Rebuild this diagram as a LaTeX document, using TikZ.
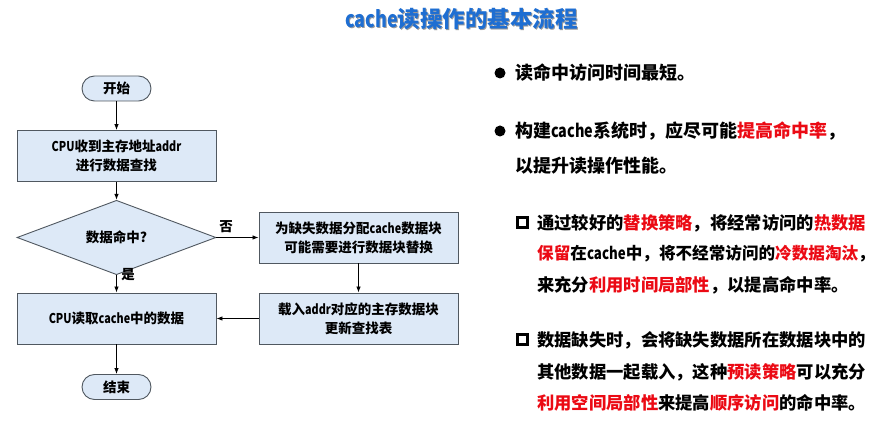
\documentclass[tikz,border=0pt]{standalone}
\usepackage{fontspec}
\setmainfont{Noto Sans CJK SC}
\usetikzlibrary{shapes.geometric,arrows.meta}
\definecolor{boxfill}{RGB}{221,233,247}
\definecolor{boxline}{RGB}{80,88,96}
\definecolor{titleblue}{RGB}{30,110,210}
\definecolor{hl}{RGB}{235,10,20}
\newcommand{\hlt}[1]{\textcolor{hl}{#1}}
\newcommand{\lat}[1]{\scalebox{0.8}[1]{#1}}
\begin{document}
\begin{tikzpicture}[x=1pt,y=-1pt,
  flow/.style={draw=boxline,fill=boxfill,line width=0.9pt,inner sep=0pt,align=center,font=\fontsize{13.5}{19}\selectfont\bfseries},
  procbox/.style={flow,rectangle,minimum width=199pt,minimum height=51pt},
  termbox/.style={flow,rectangle,rounded corners=12.5pt,minimum width=69pt,minimum height=25pt},
  decbox/.style={flow,diamond,minimum width=199pt,minimum height=50pt},
  arr/.style={-{Latex[length=6pt,width=4.5pt]},line width=0.8pt,black},
  lbl/.style={font=\fontsize{13.5}{15}\selectfont\bfseries,inner sep=0pt},
  txt/.style={anchor=west,inner sep=0pt,font=\fontsize{18}{20}\selectfont\bfseries},
  subtxt/.style={anchor=west,inner sep=0pt,font=\fontsize{17.3}{20}\selectfont\bfseries}]
\useasboundingbox (0,0) rectangle (887,443);
% title
\node[inner sep=0pt,font=\fontsize{22.5}{24}\selectfont\bfseries,text=black!40] (titleshadow) at (462.5,20.2) {\lat{cache}读操作的基本流程};
\node[inner sep=0pt,font=\fontsize{22.5}{24}\selectfont\bfseries,text=titleblue] (title) at (461.5,19) {\lat{cache}读操作的基本流程};
% flowchart
\node[termbox] (start) at (116.5,88.5) {开始};
\node[procbox] (recv) at (116.5,156) {\lat{CPU}收到主存地址\lat{addr}\\进行数据查找};
\node[decbox] (hit) at (116.5,237.5) {数据命中?};
\node[procbox] (alloc) at (358.5,237.5) {为缺失数据分配\lat{cache}数据块\\可能需要进行数据块替换};
\node[procbox] (load) at (358.5,318.5) {载入\lat{addr}对应的主存数据块\\更新查找表};
\node[procbox] (read) at (116.5,318.5) {\lat{CPU}读取\lat{cache}中的数据};
\node[termbox] (end) at (116.5,387) {结束};
\draw[arr] (start) -- (recv);
\draw[arr] (recv) -- (hit);
\draw[arr] (hit.east) -- (alloc.west);
\draw[arr] (alloc) -- (load);
\draw[arr] (load) -- (read);
\draw[arr] (hit.south) -- (read.north);
\draw[arr] (read) -- (end);
\node[lbl] (no) at (226,227) {否};
\node[lbl] (yes) at (128,275) {是};
% right text
\fill (500,73) circle (5.5pt);
\node[txt] (b1) at (515,73) {读命中访问时间最短。};
\fill (500,131) circle (5.5pt);
\node[txt] (b2a) at (515,131) {构建\lat{cache}系统时，应尽可能\hlt{提高命中率}，};
\node[txt] (b2b) at (515,166) {以提升读操作性能。};
\draw[line width=2.2pt] (517.5,217.5) rectangle (527.5,227.5);
\node[subtxt] (s1a) at (537,223) {通过较好的\hlt{替换策略}，将经常访问的\hlt{热数据}};
\node[subtxt,font=\fontsize{16.6}{20}\selectfont\bfseries] (s1b) at (537,254) {\hlt{保留}在\lat{cache}中，将不经常访问的\hlt{冷数据淘汰}，};
\node[subtxt] (s1c) at (537,285) {来充分\hlt{利用时间局部性}，以提高命中率。};
\draw[line width=2.2pt] (517.5,334.5) rectangle (527.5,344.5);
\node[subtxt] (s2a) at (537,340) {数据缺失时，会将缺失数据所在数据块中的};
\node[subtxt] (s2b) at (537,372) {其他数据一起载入，这种\hlt{预读策略}可以充分};
\node[subtxt] (s2c) at (537,403) {\hlt{利用空间局部性}来提高\hlt{顺序访问}的命中率。};
\end{tikzpicture}
\end{document}
